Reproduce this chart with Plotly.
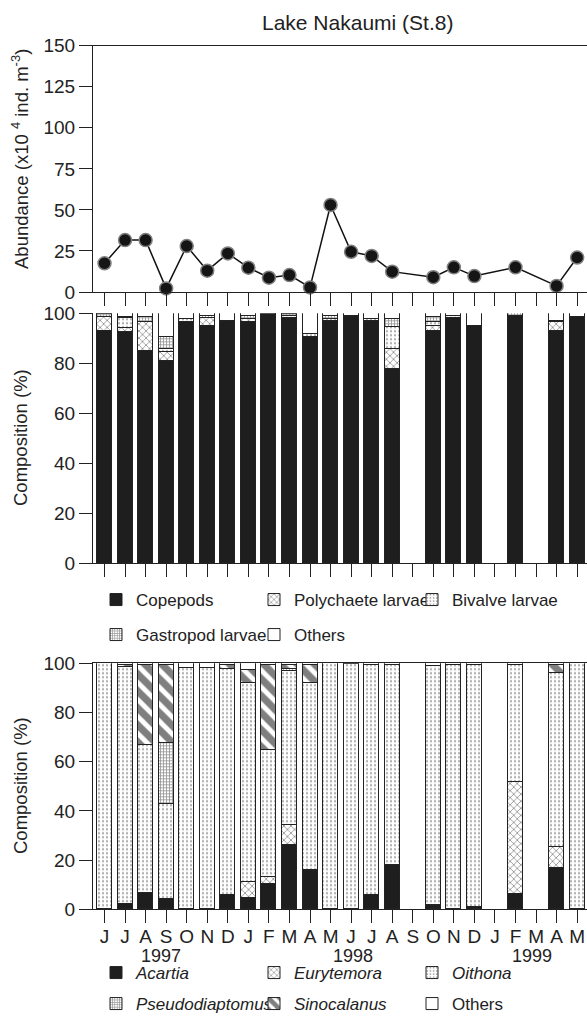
import plotly.graph_objects as go

# ---------------- data ----------------
months = ["J", "J", "A", "S", "O", "N", "D", "J", "F", "M", "A", "M",
          "J", "J", "A", "S", "O", "N", "D", "J", "F", "M", "A", "M"]
years = ["1997", "1998", "1999"]
year_center = [2.75, 12.1, 20.8]

abundance = [17.5, 31.6, 31.6, 2.2, 28, 13, 23.5, 14.8, 8.7, 10.3, 2.8, 53,
             24.5, 22, 12.4, None, 9, 15, 9.7, None, 15, None, 3.7, 21]

# composition of zooplankton (%)
copepods = [93, 92.5, 85, 81, 96.4, 95, 97, 96.5, 100, 98, 90.3, 97,
            98.3, 96.7, 77.5, None, 93, 98, 95, None, 99, None, 93, 98.5]
polychaete = [5.5, 1.5, 11.5, 3.6, 0, 3, 0, 1.3, 0, 0, 0, 0,
              0, 0, 8, None, 2, 0, 0, None, 0, None, 3.5, 0]
bivalve = [0, 4, 0, 1.2, 1.4, 0, 0, 0, 0, 0.8, 1.2, 0.7,
           0.7, 1, 9, None, 1.5, 0.8, 0, None, 0, None, 0.5, 0]
gastropod = [1, 0.5, 2, 4.6, 0, 0.8, 0, 1, 0, 0.7, 0, 1,
             0, 0, 3, None, 2, 0, 0, None, 1, None, 0, 0]
others_z = [0.5, 1.5, 1.5, 9.6, 2.2, 1.2, 3, 1.2, 0, 0.5, 8.5, 1.3,
            1, 2.3, 2.5, None, 1.5, 1.2, 5, None, 0, None, 3, 1.5]

# composition of copepods (%)
acartia = [0, 2, 6.5, 4, 0, 0, 5.6, 4.5, 10, 26, 15.3, 0,
           0, 5.8, 18, None, 1.5, 0, 0.7, None, 6, None, 16.7, 0]
eurytemora = [0, 0, 0, 0, 0, 0, 0, 6.5, 3, 8, 0.7, 0,
              0, 0, 0, None, 0, 0, 0, None, 45.5, None, 8.5, 0]
oithona = [100, 96.5, 60, 38.8, 98, 98, 91.8, 81, 51.8, 62.6, 76, 100,
           99.5, 93.5, 81.3, None, 97.1, 99, 98.6, None, 47.8, None, 70.8, 100]
pseudodiaptomus = [0, 0, 0, 24.7, 0, 0, 0, 0, 0, 1.1, 0, 0,
                   0, 0, 0, None, 0, 0, 0, None, 0, None, 0, 0]
sinocalanus = [0, 0.5, 32.5, 31.5, 0, 0, 1.6, 5.3, 34.2, 1.3, 7, 0,
               0, 0, 0, None, 0, 0, 0, None, 0, None, 3.3, 0]
others_c = [0, 1, 1, 1, 2, 2, 1, 2.7, 1, 1, 1, 0,
            0.5, 0.7, 0.7, None, 1.4, 1, 0.7, None, 0.7, None, 0.7, 0]

# ---------------- styling ----------------
FONT = "Arial, 'Liberation Sans', Helvetica, sans-serif"
TXT = "#222222"
W, H = 587, 1017
L = 93
PW = W - L
x = list(range(len(months)))

BLACK = "#1e1e1e"
OUT = dict(color="#222222", width=1)
solid_black = dict(color=BLACK, line=OUT)
wavy = dict(color="white", line=OUT,
            pattern=dict(shape="x", fgcolor="#222222", bgcolor="white", size=5, solidity=0.3))
dots = dict(color="white", line=OUT,
            pattern=dict(shape=".", fgcolor="#555555", bgcolor="white", size=4, solidity=0.25))
dense = dict(color="white", line=OUT,
             pattern=dict(shape="+", fgcolor="#333333", bgcolor="white", size=3, solidity=0.5))
stripes = dict(color="white", line=OUT,
               pattern=dict(shape="\\", fgcolor="#000000", bgcolor="white", size=12, solidity=0.6))
white = dict(color="white", line=OUT)

BAR_W = 0.73

fig = go.Figure()

# top panel: abundance
fig.add_trace(go.Scatter(
    x=x, y=abundance, mode="lines+markers", connectgaps=True,
    line=dict(color="#111111", width=1.5),
    marker=dict(size=13, color="#151515", line=dict(color="#808080", width=1.5)),
    cliponaxis=False, showlegend=False, xaxis="x", yaxis="y"))

# middle panel: zooplankton composition
mid = [("Copepods", copepods, solid_black, "legend"),
       ("Polychaete larvae", polychaete, wavy, "legend"),
       ("Bivalve larvae", bivalve, dots, "legend"),
       ("Gastropod larvae", gastropod, dense, "legend2"),
       ("Others", others_z, white, "legend2")]
for name, vals, mk, lg in mid:
    fig.add_trace(go.Bar(x=x, y=vals, name=name, marker=mk, width=BAR_W,
                         xaxis="x2", yaxis="y2", legend=lg))

# bottom panel: copepod composition
bot = [("<i>Acartia</i>", acartia, solid_black, "legend3"),
       ("<i>Eurytemora</i>", eurytemora, wavy, "legend3"),
       ("<i>Oithona</i>", oithona, dots, "legend3"),
       ("<i>Pseudodiaptomus</i>", pseudodiaptomus, dense, "legend4"),
       ("<i>Sinocalanus</i>", sinocalanus, stripes, "legend4"),
       ("Others", others_c, white, "legend4")]
for name, vals, mk, lg in bot:
    fig.add_trace(go.Bar(x=x, y=vals, name=name, marker=mk, width=BAR_W,
                         xaxis="x3", yaxis="y3", legend=lg))


def py(px):
    return 1 - px / H


def px_x(px):
    return (px - L) / PW


XR = [-0.56, 23.48]
common_x = dict(range=XR, tickmode="array", tickvals=x, ticks="outside", ticklen=13,
                tickcolor=TXT, tickwidth=1, showline=True, linecolor=TXT,
                linewidth=1.2, showgrid=False, zeroline=False, automargin=False,
                tickfont=dict(family=FONT, size=19, color=TXT))
common_y = dict(ticks="outside", ticklen=13, tickcolor=TXT, tickwidth=1,
                showline=True, linecolor=TXT, linewidth=1.2, showgrid=False,
                zeroline=False, automargin=False,
                tickfont=dict(family=FONT, size=19, color=TXT))

leg_common = dict(orientation="h", xref="paper", yref="paper", yanchor="middle",
                  xanchor="left", entrywidth=113, entrywidthmode="pixels",
                  traceorder="normal", bgcolor="rgba(0,0,0,0)", itemclick=False,
                  font=dict(family=FONT, size=17, color=TXT))

LEGX = px_x(96)
fig.update_layout(
    width=W, height=H, margin=dict(l=L, r=0, t=0, b=0, autoexpand=False),
    paper_bgcolor="white", plot_bgcolor="white",
    barmode="stack", bargap=0,
    xaxis=dict(common_x, domain=[0, 1], anchor="y", showticklabels=False, mirror=True),
    yaxis=dict(common_y, domain=[py(292), py(45.7)], range=[0, 150],
               tickvals=[0, 25, 50, 75, 100, 125, 150], anchor="x"),
    xaxis2=dict(common_x, domain=[0, 1], anchor="y2", showticklabels=False),
    yaxis2=dict(common_y, domain=[py(563.3), py(313.3)], range=[0, 100],
                tickvals=[0, 20, 40, 60, 80, 100], anchor="x2"),
    xaxis3=dict(common_x, domain=[0, 1], anchor="y3", ticktext=months, mirror=True,
                ticklabelstandoff=-3),
    yaxis3=dict(common_y, domain=[py(909.3), py(663.3)], range=[0, 100],
                tickvals=[0, 20, 40, 60, 80, 100], anchor="x3"),
    legend=dict(leg_common, x=LEGX, y=py(600)),
    legend2=dict(leg_common, x=LEGX, y=py(635)),
    legend3=dict(leg_common, x=LEGX, y=py(973)),
    legend4=dict(leg_common, x=LEGX, y=py(1004)),
)

# chart title
fig.add_annotation(text="Lake Nakaumi (St.8)", x=px_x(357), y=py(22), xref="paper",
                   yref="paper", showarrow=False, xanchor="center", yanchor="middle",
                   font=dict(family=FONT, size=21, color=TXT))

# y-axis titles
ytitles = [("Abundance (x10 <sup>4</sup> ind. m<sup>-3</sup>)", 159),
           ("Composition (%)", 438),
           ("Composition (%)", 786)]
for t, yc in ytitles:
    fig.add_annotation(text=t, x=px_x(20), y=py(yc), xref="paper", yref="paper",
                       showarrow=False, textangle=-90, xanchor="center", yanchor="middle",
                       font=dict(family=FONT, size=18.5, color=TXT))

# year labels under the month ticks
for yr, xc in zip(years, year_center):
    fig.add_annotation(x=xc, y=py(956), xref="x3", yref="paper", text=yr,
                       showarrow=False, yanchor="middle", xanchor="center",
                       font=dict(family=FONT, size=18, color=TXT))

fig.write_html("out.html",
               config={"displayModeBar": False},
               post_script="document.body.style.margin='0';"
                           "document.body.style.overflow='hidden';")
